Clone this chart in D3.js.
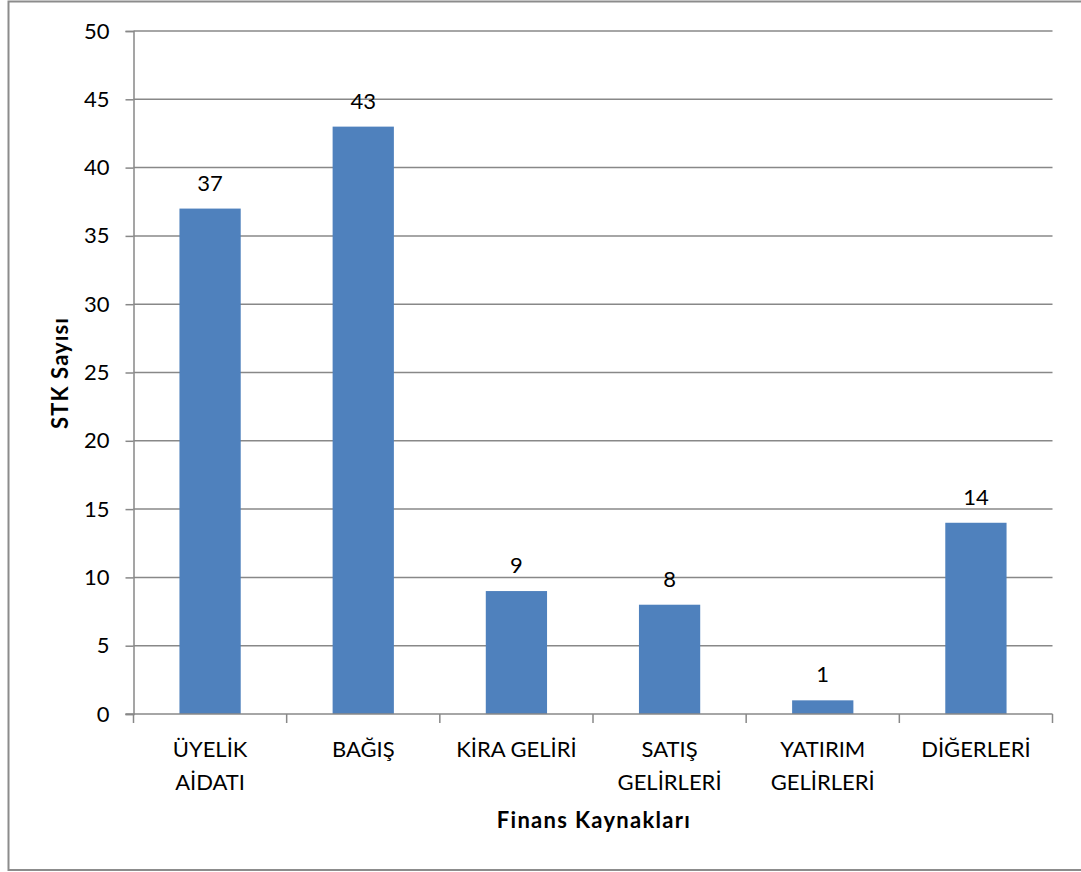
<!DOCTYPE html>
<html>
<head>
<meta charset="utf-8">
<script src="https://cdn.jsdelivr.net/npm/d3@7"></script>
<style>
  html, body { margin: 0; padding: 0; background: #fff; }
  svg { display: block; }
  text { font-family: Lato, "Open Sans", sans-serif; fill: #000; }
</style>
</head>
<body>
<svg id="chart" width="1081" height="872"></svg>
<script>
// Finans kaynaklarına göre STK sayısı
const categories = ["ÜYELİK AİDATI", "BAĞIŞ", "KİRA GELİRİ", "SATIŞ GELİRLERİ", "YATIRIM GELİRLERİ", "DİĞERLERİ"];
const categoryLines = [["ÜYELİK", "AİDATI"], ["BAĞIŞ"], ["KİRA GELİRİ"], ["SATIŞ", "GELİRLERİ"], ["YATIRIM", "GELİRLERİ"], ["DİĞERLERİ"]];
const values = [37, 43, 9, 8, 1, 14];
const yTicks = [0, 5, 10, 15, 20, 25, 30, 35, 40, 45, 50];
const yTitle = "STK Sayısı";
const xTitle = "Finans Kaynakları";

const svg = d3.select("#chart");
const plotL = 133.5, plotR = 1052.5, plotT = 31, plotB = 714;
const fs = 22;

// outer frame
svg.append("rect")
  .attr("x", 8.5).attr("y", 1.5)
  .attr("width", 1090).attr("height", 868.5)
  .attr("fill", "none").attr("stroke", "#8c8c8c").attr("stroke-width", 2);

const x = d3.scaleBand().domain(categories).range([plotL, plotR]).paddingInner(0).paddingOuter(0);
const y = d3.scaleLinear().domain([0, 50]).range([plotB, plotT]);
const barW = x.bandwidth() / 2.5;

// horizontal gridlines
svg.append("g").selectAll("line").data(yTicks.filter(t => t > 0)).join("line")
  .attr("x1", plotL).attr("x2", plotR)
  .attr("y1", d => y(d)).attr("y2", d => y(d))
  .attr("stroke", "#888").attr("stroke-width", 1.5);

// y axis
const yAxis = svg.append("g").attr("transform", `translate(${plotL},0)`)
  .call(d3.axisLeft(y).tickValues(yTicks).tickSize(8).tickPadding(16));
yAxis.select(".domain").attr("stroke", "#888").attr("stroke-width", 1.5);
yAxis.selectAll(".tick line").attr("stroke", "#888").attr("stroke-width", 1.5);
yAxis.selectAll(".tick text").attr("font-size", fs).attr("font-family", "Lato, sans-serif").attr("fill", "#000");

// bars
svg.append("g").selectAll("rect").data(values).join("rect")
  .attr("x", (d, i) => x(categories[i]) + (x.bandwidth() - barW) / 2)
  .attr("y", d => y(d))
  .attr("width", barW)
  .attr("height", d => y(0) - y(d))
  .attr("fill", "#4f81bd");

// x axis
const xAxis = svg.append("g").attr("transform", `translate(0,${plotB})`);
xAxis.append("line").attr("x1", plotL - 8).attr("x2", plotR).attr("stroke", "#888").attr("stroke-width", 1.5);
const edges = categories.map(c => x(c)).concat([plotR]);
xAxis.selectAll("line.tick").data(edges).join("line").attr("class", "tick")
  .attr("x1", d => d).attr("x2", d => d).attr("y1", 0).attr("y2", 9)
  .attr("stroke", "#888").attr("stroke-width", 1.5);

// category labels
const lbl = svg.append("g").selectAll("text").data(categoryLines).join("text")
  .attr("text-anchor", "middle").attr("font-size", fs);
lbl.each(function(lines, i) {
  d3.select(this).selectAll("tspan").data(lines).join("tspan")
    .attr("x", x(categories[i]) + x.bandwidth() / 2)
    .attr("y", (d, j) => 757 + j * 33)
    .text(d => d);
});

// value labels
svg.append("g").selectAll("text").data(values).join("text")
  .attr("x", (d, i) => x(categories[i]) + x.bandwidth() / 2)
  .attr("y", d => y(d) - 18)
  .attr("text-anchor", "middle").attr("font-size", fs)
  .text(d => d);

// axis titles
svg.append("text").attr("x", 594).attr("y", 828)
  .attr("text-anchor", "middle").attr("font-size", fs).attr("font-weight", "bold")
  .attr("letter-spacing", 1.3)
  .text(xTitle);
svg.append("text").attr("transform", "translate(68,373) rotate(-90)")
  .attr("text-anchor", "middle").attr("font-size", fs).attr("font-weight", "bold")
  .attr("letter-spacing", 1.1)
  .text(yTitle);
</script>
</body>
</html>
